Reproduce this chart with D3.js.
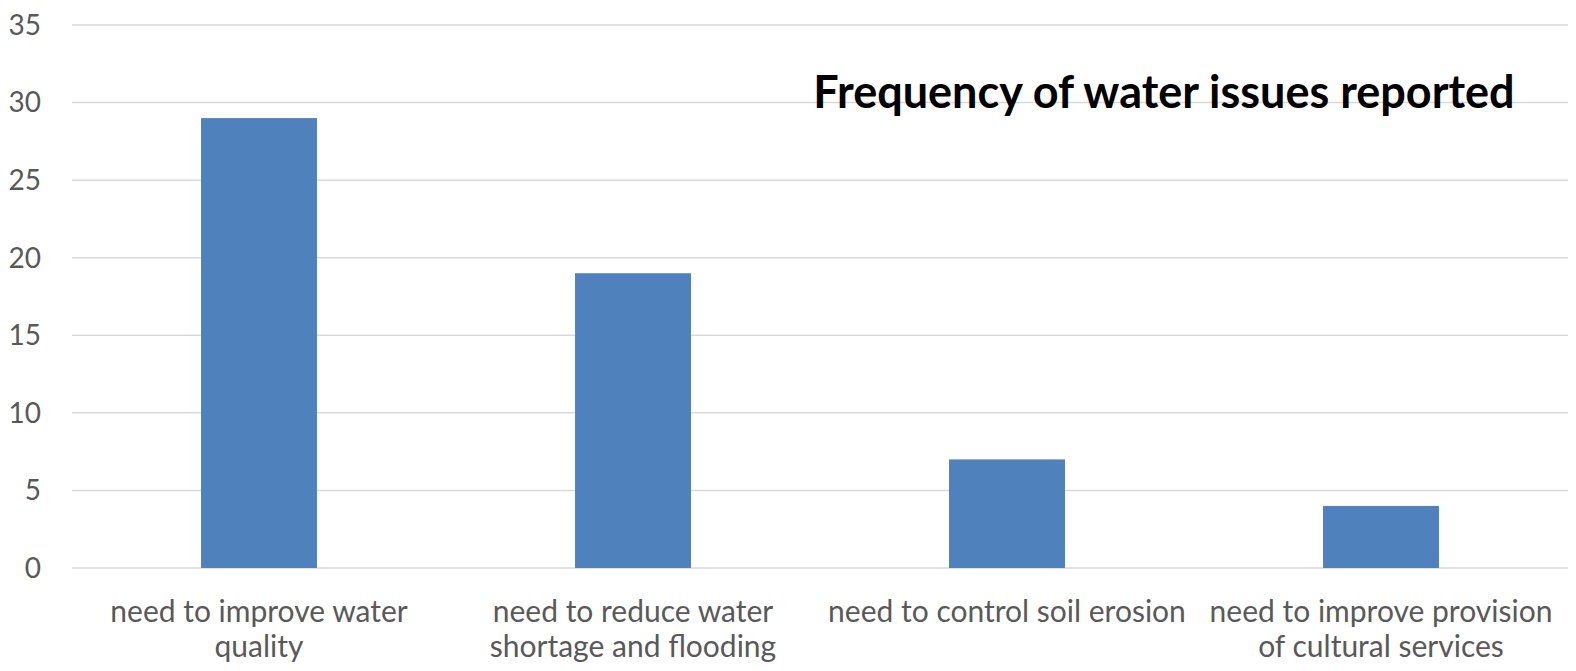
<!DOCTYPE html>
<html>
<head>
<meta charset="utf-8">
<script src="https://cdn.jsdelivr.net/npm/d3@7"></script>
<style>
  html, body { margin: 0; padding: 0; background: #fff; }
  svg { display: block; }
</style>
</head>
<body>
<svg id="chart" width="1576" height="671"></svg>
<script>
const categories = [
  "need to improve water quality",
  "need to reduce water shortage and flooding",
  "need to control soil erosion",
  "need to improve provision of cultural services"
];
const values = [29, 19, 7, 4];
const yTicks = [0, 5, 10, 15, 20, 25, 30, 35];
const title = "Frequency of water issues reported";

const W = 1576, H = 671;
const margin = { left: 72, right: 8, top: 25, bottom: 103 };
const svg = d3.select("#chart");

const x = d3.scaleBand()
  .domain(categories)
  .range([margin.left, W - margin.right])
  .paddingInner(0.69)
  .paddingOuter(0.345);

const y = d3.scaleLinear()
  .domain([0, 35])
  .range([H - margin.bottom, margin.top]);

// gridlines
svg.append("g")
  .selectAll("line")
  .data(yTicks)
  .join("line")
  .attr("x1", margin.left)
  .attr("x2", W - margin.right)
  .attr("y1", d => y(d))
  .attr("y2", d => y(d))
  .attr("stroke", "#d9d9d9")
  .attr("stroke-width", 1.5);

// y tick labels
svg.append("g")
  .selectAll("text")
  .data(yTicks)
  .join("text")
  .attr("x", 41)
  .attr("y", d => y(d))
  .attr("dy", "0.35em")
  .attr("text-anchor", "end")
  .attr("font-family", "Lato, 'Open Sans', sans-serif")
  .attr("font-size", 28)
  .attr("fill", "#595959")
  .text(d => d);

// bars
svg.append("g")
  .selectAll("rect")
  .data(categories.map((c, i) => ({ c, v: values[i] })))
  .join("rect")
  .attr("x", d => x(d.c))
  .attr("width", x.bandwidth())
  .attr("y", d => y(d.v))
  .attr("height", d => y(0) - y(d.v))
  .attr("fill", "#4f81bd");

// category labels with wrapping
const maxLabelWidth = 362;
const labelG = svg.append("g")
  .attr("font-family", "Lato, 'Open Sans', sans-serif")
  .attr("font-size", 30)
  .attr("fill", "#595959")
  .attr("text-anchor", "middle");

categories.forEach(c => {
  const cx = x(c) + x.bandwidth() / 2;
  const t = labelG.append("text").attr("x", cx).attr("y", 622);
  const words = c.split(" ");
  let lines = [];
  let cur = [];
  const probe = labelG.append("text").attr("visibility", "hidden");
  words.forEach(w => {
    const test = cur.concat([w]).join(" ");
    probe.text(test);
    if (probe.node().getComputedTextLength() > maxLabelWidth && cur.length) {
      lines.push(cur.join(" "));
      cur = [w];
    } else {
      cur.push(w);
    }
  });
  lines.push(cur.join(" "));
  probe.remove();
  lines.forEach((ln, i) => {
    t.append("tspan").attr("x", cx).attr("y", 622 + i * 35).text(ln);
  });
});

// title
svg.append("text")
  .attr("x", 1164)
  .attr("y", 108)
  .attr("text-anchor", "middle")
  .attr("font-family", "Lato, 'Open Sans', sans-serif")
  .attr("font-weight", "bold")
  .attr("font-size", 45)
  .attr("fill", "#000")
  .text(title);
</script>
</body>
</html>
